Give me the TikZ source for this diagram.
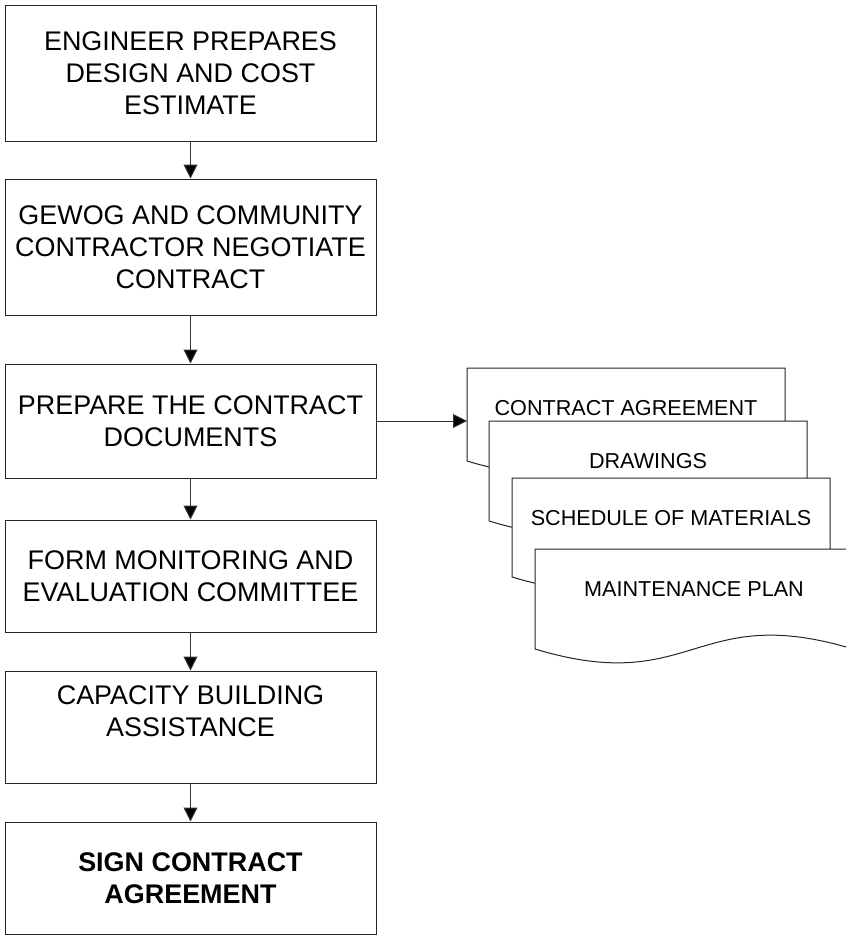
\documentclass[tikz,border=0pt]{standalone}
\usepackage{fontspec}
\setmainfont{Liberation Sans}
\usetikzlibrary{arrows.meta}

\begin{document}
\begin{tikzpicture}[x=0.75pt,y=-0.75pt,
  stepbox/.style={draw=black!85,line width=0.75pt,fill=white,inner sep=0pt,align=center,
    minimum width=278.25pt,font=\fontsize{20.2}{24}\selectfont},
  flowarrow/.style={draw=black!80,line width=0.75pt,-{Triangle[length=10.5pt,width=10.5pt,fill=black]}},
  docshape/.style={draw=black!85,line width=0.75pt,fill=white},
  doctext/.style={inner sep=0pt,font=\fontsize{16.2}{19}\selectfont}]
\useasboundingbox (0,0) rectangle (846,935);
\clip (0,0) rectangle (846,935);
% ---------- main steps ----------
\node[stepbox,minimum height=102pt] (engineer) at (190.5,73) {ENGINEER PREPARES\\DESIGN AND COST\\ESTIMATE};
\node[stepbox,minimum height=102pt] (gewog) at (190.5,247) {GEWOG AND COMMUNITY\\CONTRACTOR NEGOTIATE\\CONTRACT};
\node[stepbox,minimum height=85.5pt] (prepare) at (190.5,421) {PREPARE THE CONTRACT\\DOCUMENTS};
\node[stepbox,minimum height=84pt] (committee) at (190.5,576) {FORM MONITORING AND\\EVALUATION COMMITTEE};
\node[stepbox,minimum height=84pt] (capacity) at (190.5,727) {CAPACITY BUILDING\\ASSISTANCE\\\mbox{}};
\node[stepbox,minimum height=84pt,font=\fontsize{20.2}{24}\selectfont\bfseries] (sign) at (190.5,878) {SIGN CONTRACT\\AGREEMENT};
\draw[flowarrow] (engineer) -- (gewog);
\draw[flowarrow] (gewog) -- (prepare);
\draw[flowarrow] (prepare) -- (committee);
\draw[flowarrow] (committee) -- (capacity);
\draw[flowarrow] (capacity) -- (sign);
% ---------- contract documents ----------
\foreach \x/\y/\h/\nm/\txt in {467/368/93/agreement/CONTRACT AGREEMENT,
    489/421/100/drawings/DRAWINGS,
    512/478/99/schedule/SCHEDULE OF MATERIALS,
    535/549/100/maintenance/MAINTENANCE PLAN}{
  \filldraw[docshape] (\x,\y) -- ({\x+318},\y) -- ({\x+318},{\y+\h})
    .. controls ({\x+159},{\y+\h-48}) and ({\x+159},{\y+\h+48}) .. (\x,{\y+\h}) -- cycle;
  \node[doctext] (\nm) at ({\x+159},{\y+40}) {\txt};
}
\coordinate (docedge) at (467,421);
\draw[flowarrow] (prepare.east) -- (docedge);
\end{tikzpicture}
\end{document}
